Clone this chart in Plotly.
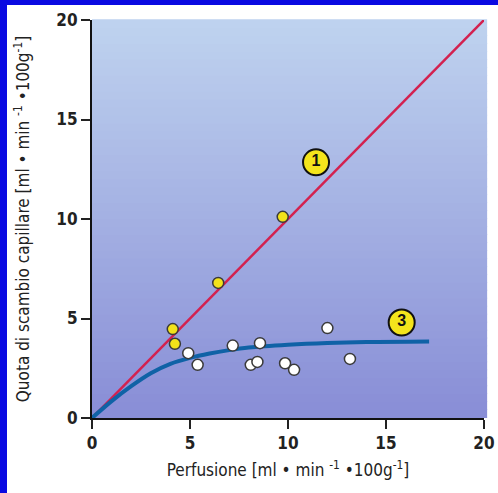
import plotly.graph_objects as go

# ---- data ----
yellow_x = [4.12, 4.23, 6.44, 9.73]
yellow_y = [4.47, 3.73, 6.79, 10.11]

white_x = [4.91, 5.39, 7.18, 8.10, 8.44, 8.57, 9.85, 10.31, 12.01, 13.16]
white_y = [3.26, 2.67, 3.64, 2.67, 2.82, 3.76, 2.75, 2.42, 4.52, 2.97]

line1_x = [0, 20]
line1_y = [0, 20]

curve3_x = [0, 1, 2, 3, 4, 5, 6, 7, 8, 10, 12, 14, 17.2]
curve3_y = [0, 0.85, 1.6, 2.25, 2.72, 3.02, 3.24, 3.41, 3.54, 3.68, 3.77, 3.82, 3.85]

label_x = [11.43, 15.8]
label_y = [12.85, 4.8]
label_text = ["1", "3"]

tick_vals = [0, 5, 10, 15, 20]
tick_text = ["0", "5", "10", "15", "20"]

x_title = "Perfusione [ml • min <sup>-1</sup> •100g<sup>-1</sup>]"
y_title = "Quota di scambio capillare [ml • min <sup>-1</sup> •100g<sup>-1</sup>]"

FONT = "Liberation Sans Narrow, DejaVu Sans Condensed, Arial Narrow, sans-serif"

fig = go.Figure()

fig.add_trace(go.Scatter(x=line1_x, y=line1_y, mode="lines",
                         line=dict(color="#d3214f", width=2.5),
                         hoverinfo="skip", showlegend=False))
fig.add_trace(go.Scatter(x=curve3_x, y=curve3_y, mode="lines",
                         line=dict(color="#0f62a6", width=4, shape="spline", smoothing=1.0),
                         hoverinfo="skip", showlegend=False))
fig.add_trace(go.Scatter(x=yellow_x, y=yellow_y, mode="markers",
                         marker=dict(size=11, color="#f2e21a",
                                     line=dict(color="#3a3a3a", width=1.5)),
                         showlegend=False))
fig.add_trace(go.Scatter(x=white_x, y=white_y, mode="markers",
                         marker=dict(size=11, color="#ffffff",
                                     line=dict(color="#3a3a3a", width=1.5)),
                         showlegend=False))
fig.add_trace(go.Scatter(x=label_x, y=label_y, mode="markers+text",
                         text=label_text, textposition="middle center",
                         textfont=dict(family="Liberation Sans, Arial, sans-serif",
                                       size=16, color="#111111", weight="bold"),
                         marker=dict(size=26, color="#f4e41c",
                                     line=dict(color="#111111", width=2)),
                         showlegend=False))

# ---- blue frame (left and top strips) + gradient plot background ----
BLUE = "#0a0ae2"
shapes = [
    dict(type="rect", xref="paper", yref="paper",
         x0=-92 / 392, x1=-85 / 392, y0=-75 / 398, y1=418 / 398,
         fillcolor=BLUE, line=dict(width=0), layer="below"),
    dict(type="rect", xref="paper", yref="paper",
         x0=-92 / 392, x1=406 / 392, y0=(418 - 5) / 398, y1=418 / 398,
         fillcolor=BLUE, line=dict(width=0), layer="below"),
]
top = (0xbf, 0xd3, 0xef)
bot = (0x88, 0x8d, 0xd6)
n = 50
for i in range(n):
    t = (i + 0.5) / n
    c = tuple(int(round(bot[k] + (top[k] - bot[k]) * t)) for k in range(3))
    shapes.append(dict(type="rect", xref="paper", yref="paper",
                       x0=0, x1=1.008, y0=i / n, y1=(i + 1) / n + 0.002,
                       fillcolor="rgb(%d,%d,%d)" % c, line=dict(width=0),
                       layer="below"))

axis_common = dict(range=[0, 20], tickvals=tick_vals, ticktext=tick_text,
                   showgrid=False, zeroline=False, showline=True,
                   linecolor="#111111", linewidth=2, automargin=False,
                   ticks="outside", ticklen=9, tickwidth=1.5, tickcolor="#222222",
                   tickfont=dict(family=FONT, size=17, color="#222222", weight="bold"),
                   title_font=dict(family=FONT, size=17, color="#222222"))

fig.update_layout(
    width=498, height=493,
    margin=dict(l=92, r=14, t=20, b=75, autoexpand=False),
    paper_bgcolor="white",
    plot_bgcolor="rgba(0,0,0,0)",
    shapes=shapes,
    xaxis=dict(**axis_common, title=dict(text=x_title, standoff=12)),
    yaxis=dict(**axis_common, title=dict(text=y_title, standoff=22)),
)

fig.write_html("out.html",
               config={"displayModeBar": False},
               post_script="document.body.style.margin='0';document.body.style.overflow='hidden';")
